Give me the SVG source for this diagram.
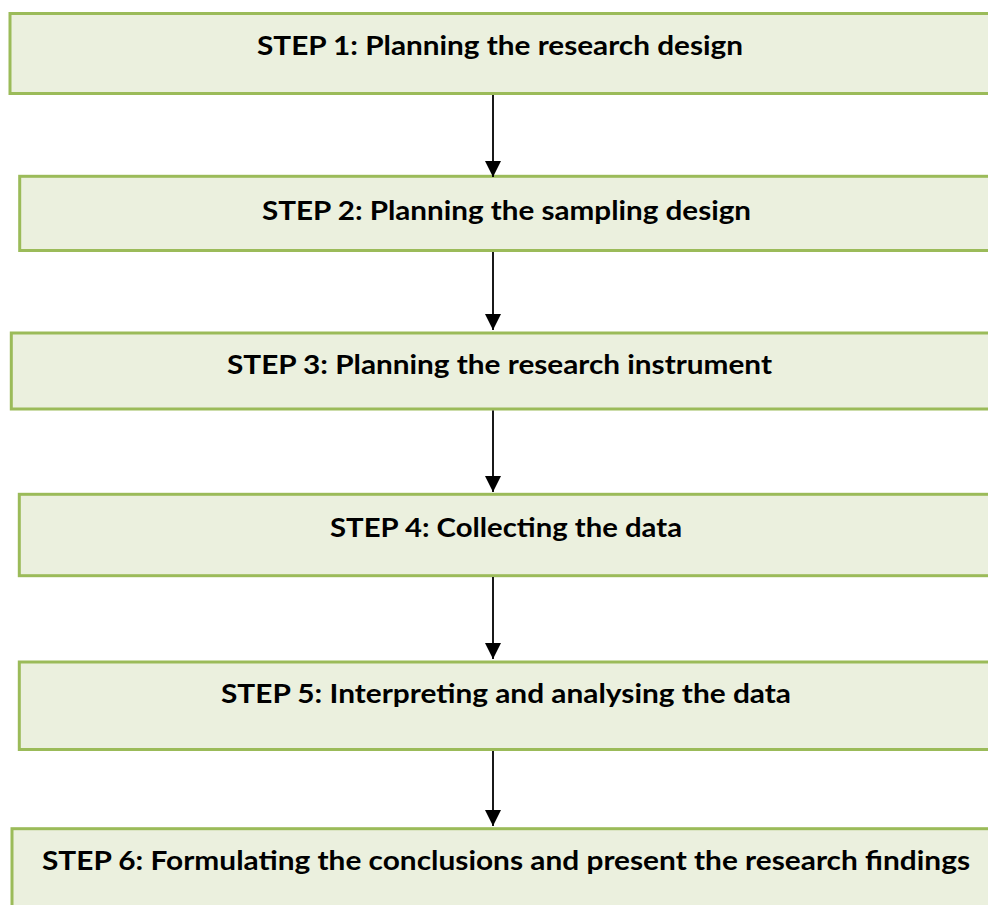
<svg xmlns="http://www.w3.org/2000/svg" width="988" height="905" viewBox="0 0 988 905">
  <style>
    .box { fill: #EBF0DE; stroke: #9BBB59; stroke-width: 3; }
    .label { font-family: Lato, "Open Sans", "Liberation Sans", sans-serif; font-weight: bold; font-size: 27px; fill: #000000; }
    .conn { stroke: #000000; stroke-width: 1.8; fill: none; }
  </style>
  <defs>
    <marker id="arrowhead" viewBox="0 0 16 16" refX="16" refY="8" markerUnits="userSpaceOnUse" markerWidth="16" markerHeight="16" orient="auto">
      <path d="M0,0 L16,8 L0,16 Z" fill="#000000"/>
    </marker>
  </defs>

  <rect width="988" height="905" fill="#FFFFFF"/>

  <g id="step1">
    <rect class="box" x="10" y="13.5" width="985" height="80"/>
    <text class="label" x="500" y="55" text-anchor="middle" textLength="486" lengthAdjust="spacingAndGlyphs">STEP 1: Planning the research design</text>
  </g>
  <g id="step2">
    <rect class="box" x="19.7" y="176.3" width="975" height="74.2"/>
    <text class="label" x="506.5" y="220" text-anchor="middle" textLength="489" lengthAdjust="spacingAndGlyphs">STEP 2: Planning the sampling design</text>
  </g>
  <g id="step3">
    <rect class="box" x="11.3" y="333" width="985" height="76"/>
    <text class="label" x="499.5" y="374" text-anchor="middle" textLength="545" lengthAdjust="spacingAndGlyphs">STEP 3: Planning the research instrument</text>
  </g>
  <g id="step4">
    <rect class="box" x="19.3" y="494.3" width="975" height="81.4"/>
    <text class="label" x="506" y="537" text-anchor="middle" textLength="352" lengthAdjust="spacingAndGlyphs">STEP 4: Collecting the data</text>
  </g>
  <g id="step5">
    <rect class="box" x="19.3" y="662" width="975" height="87.5"/>
    <text class="label" x="506" y="703" text-anchor="middle" textLength="570" lengthAdjust="spacingAndGlyphs">STEP 5: Interpreting and analysing the data</text>
  </g>
  <g id="step6">
    <rect class="box" x="12" y="828.7" width="985" height="90"/>
    <text class="label" x="506" y="870" text-anchor="middle" textLength="928" lengthAdjust="spacingAndGlyphs">STEP 6: Formulating the conclusions and present the research findings</text>
  </g>

  <g id="connectors">
    <line class="conn" x1="493" y1="95" x2="493" y2="177" marker-end="url(#arrowhead)"/>
    <line class="conn" x1="493" y1="252" x2="493" y2="330" marker-end="url(#arrowhead)"/>
    <line class="conn" x1="493" y1="410.5" x2="493" y2="492" marker-end="url(#arrowhead)"/>
    <line class="conn" x1="493" y1="577" x2="493" y2="659" marker-end="url(#arrowhead)"/>
    <line class="conn" x1="493" y1="751" x2="493" y2="826" marker-end="url(#arrowhead)"/>
  </g>
</svg>
